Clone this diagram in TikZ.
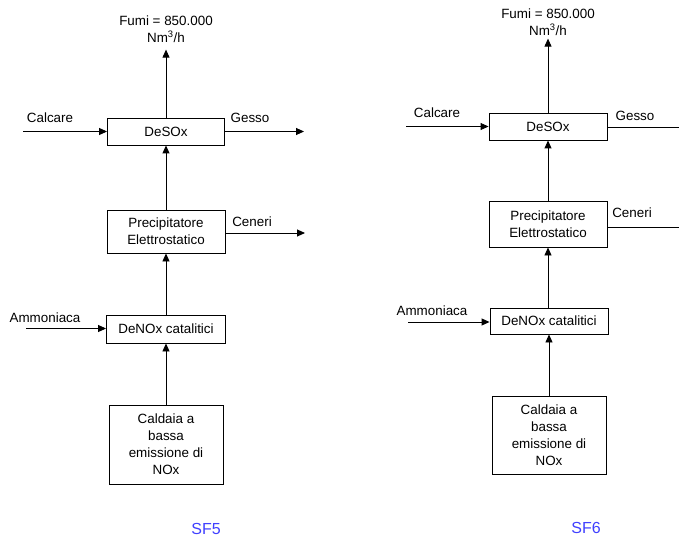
\documentclass[tikz,border=0pt]{standalone}
\usepackage{fontspec}
\setmainfont{Liberation Sans}
\usetikzlibrary{arrows.meta}
\definecolor{sfblue}{RGB}{64,64,255}

\tikzset{
  blocco/.style={draw, line width=0.9pt, align=center, inner sep=2pt,
    font=\fontsize{13.4}{17}\selectfont},
  etich/.style={inner sep=1pt, font=\fontsize{13.4}{17}\selectfont},
  flusso/.style={line width=0.9pt, -{Triangle[length=8pt,width=7pt]}},
}

\begin{document}
\begin{tikzpicture}[x=1pt, y=-1pt]
	\clip (0,0) rectangle (679,537);
	\fill[white] (0,0) rectangle (679,537);
	% SF5
	\node[blocco, minimum width=117pt, minimum height=27pt] (desox5) at (166,131.5) {DeSOx};
	\node[blocco, minimum width=118pt, minimum height=43pt] (precip5) at (166,231.5) {Precipitatore\\Elettrostatico};
	\node[blocco, minimum width=119pt, minimum height=28pt] (denox5) at (166,329) {DeNOx catalitici};
	\node[blocco, minimum width=114pt, minimum height=79pt] (cald5) at (166,444.5) {Caldaia a\\bassa\\emissione di\\NOx};
	\node[etich, align=center] (fumi5) at (166,29) {Fumi = 850.000\\Nm\textsuperscript{3}/h};
		\coordinate (calc5) at (23,131.5);
		\coordinate (gess5) at (304,131.5);
		\coordinate (cen5) at (305,233);
		\coordinate (amm5) at (26,328.5);
	\draw[flusso] (cald5) -- (denox5);
	\draw[flusso] (denox5) -- (precip5);
	\draw[flusso] (precip5) -- (desox5);
	\draw[flusso, shorten >=6pt] (desox5) -- (fumi5);
	\draw[flusso] (calc5) -- (desox5);
	\draw[flusso] (desox5) -- (gess5);
	\draw[flusso] (precip5.east |- cen5) -- (cen5);
	\draw[flusso] (amm5) -- (denox5.west |- amm5);
		\node[etich] (lcalc5) at (50,118) {Calcare};
		\node[etich] (lgess5) at (250,118) {Gesso};
		\node[etich] (lcen5) at (252,222) {Ceneri};
		\node[etich] (lamm5) at (45,318) {Ammoniaca};
	\node[text=sfblue, font=\fontsize{16}{19}\selectfont] (sf5) at (206,529) {SF5};
	% SF6
	\node[blocco, minimum width=118pt, minimum height=27pt] (desox6) at (548,126.5) {DeSOx};
	\node[blocco, minimum width=118pt, minimum height=46pt] (precip6) at (548,224) {Precipitatore\\Elettrostatico};
	\node[blocco, minimum width=118pt, minimum height=26pt] (denox6) at (549,321) {DeNOx catalitici};
	\node[blocco, minimum width=114pt, minimum height=78pt] (cald6) at (549,435) {Caldaia a\\bassa\\emissione di\\NOx};
	\node[etich, align=center] (fumi6) at (548,22) {Fumi = 850.000\\Nm\textsuperscript{3}/h};
		\coordinate (calc6) at (406,126.5);
		\coordinate (gess6) at (692,127);
		\coordinate (cen6) at (692,227);
		\coordinate (amm6) at (408,322);
	\draw[flusso] (cald6) -- (cald6 |- denox6.south);
	\draw[flusso] (denox6.north -| precip6) -- (precip6);
	\draw[flusso] (precip6) -- (desox6);
	\draw[flusso, shorten >=2pt] (desox6) -- (fumi6);
	\draw[flusso] (calc6) -- (desox6);
	\draw[flusso] (desox6.east |- gess6) -- (gess6);
	\draw[flusso] (precip6.east |- cen6) -- (cen6);
	\draw[flusso] (amm6) -- (denox6.west |- amm6);
		\node[etich] (lcalc6) at (437,113) {Calcare};
		\node[etich] (lgess6) at (635,116) {Gesso};
		\node[etich] (lcen6) at (632,213) {Ceneri};
		\node[etich] (lamm6) at (432,311) {Ammoniaca};
	\node[text=sfblue, font=\fontsize{16}{19}\selectfont] (sf6) at (586,528) {SF6};
\end{tikzpicture}
\end{document}
